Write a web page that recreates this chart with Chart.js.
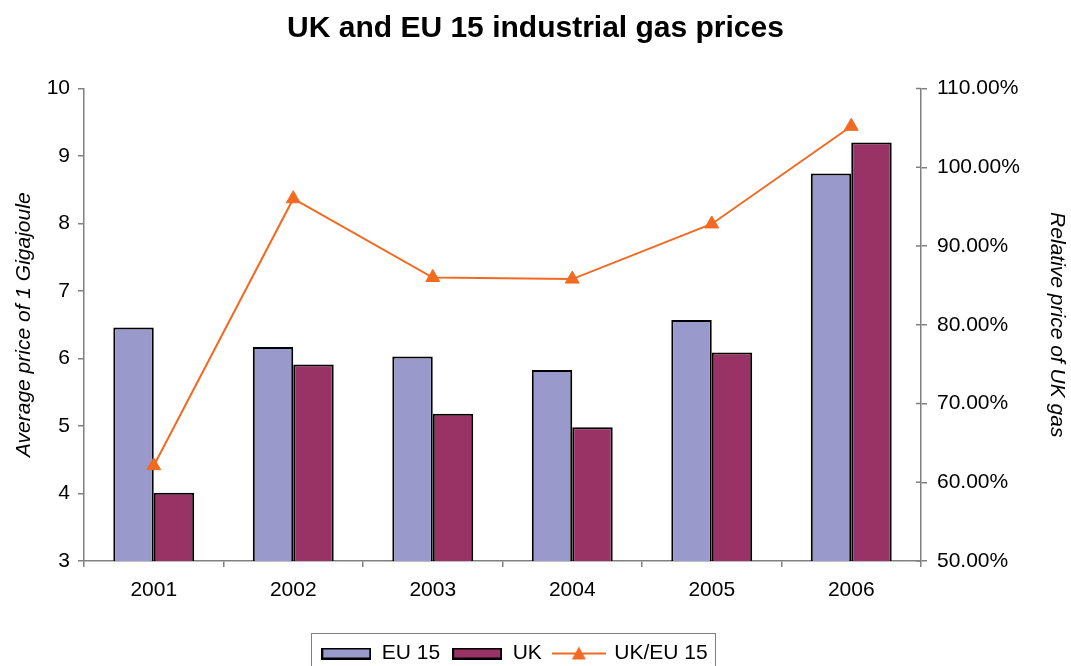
<!DOCTYPE html>
<html>
<head>
<meta charset="utf-8">
<title>UK and EU 15 industrial gas prices</title>
<script src="https://cdn.jsdelivr.net/npm/chart.js@4.4.1/dist/chart.umd.min.js"></script>
<style>
  html, body { margin: 0; padding: 0; background: #ffffff; }
  canvas { display: block; }
</style>
</head>
<body>
<canvas id="chart" width="1071" height="666"></canvas>
<script>
// average price of 1 GJ and UK price relative to EU 15
const years = ['2001', '2002', '2003', '2004', '2005', '2006'];
const eu15Price = [6.46, 6.17, 6.03, 5.83, 6.57, 8.74];
const ukPrice = [4.01, 5.91, 5.18, 4.98, 6.09, 9.20];
const ukEuRatio = [62.1, 96.0, 86.0, 85.8, 92.8, 105.2];

// axis ranges: [min, max, step]
const priceAxis = [3, 10, 1];
const ratioAxis = [50, 110, 10];

const EU_COLOR = '#9999CC';
const UK_COLOR = '#993366';
const LINE_COLOR = '#F26A21';
const AXIS_COLOR = '#808080';

Chart.defaults.font.family = "'Liberation Sans', Arial, sans-serif";
Chart.defaults.color = '#000000';

function barSwatch(fill) {
    var c = document.createElement('canvas');
    c.width = 50;
    c.height = 12;
    var g = c.getContext('2d');
    g.fillStyle = fill;
    g.fillRect(1, 1, 48, 10);
    g.strokeStyle = '#000000';
    g.lineWidth = 2;
    g.strokeRect(1, 1, 48, 10);
    return c;
}

function lineSwatch(color) {
    var c = document.createElement('canvas');
    c.width = 54;
    c.height = 16;
    var g = c.getContext('2d');
    g.strokeStyle = color;
    g.lineWidth = 2;
    g.beginPath();
    g.moveTo(0, 8);
    g.lineTo(54, 8);
    g.stroke();
    g.fillStyle = color;
    g.beginPath();
    g.moveTo(27, 1);
    g.lineTo(34, 14);
    g.lineTo(20, 14);
    g.closePath();
    g.fill();
    return c;
}

// one swatch per dataset index
const swatches = [barSwatch(EU_COLOR), barSwatch(UK_COLOR), lineSwatch(LINE_COLOR)];

// nudge the legend a little left of the canvas centre
const legendShift = {
    id: 'legendShift',
    afterLayout(chart) {
        chart.legend.left -= 21;
        chart.legend.right -= 21;
    }
};

// frame round the legend items
const legendFrame = {
    id: 'legendFrame',
    afterDraw(chart) {
        var boxes = chart.legend.legendHitBoxes;
        if (!boxes || !boxes.length) return;
        var left = Math.min(...boxes.map(b => b.left)) - 10;
        var right = Math.max(...boxes.map(b => b.left + b.width)) + 8;
        var top = Math.min(...boxes.map(b => b.top)) - 10;
        var ctx = chart.ctx;
        ctx.save();
        ctx.strokeStyle = AXIS_COLOR;
        ctx.lineWidth = 1;
        ctx.strokeRect(Math.round(left) + 0.5, Math.round(top) + 0.5, Math.round(right - left), 80);
        ctx.restore();
    }
};

// right axis ticks cross the axis line
const crossTicks = {
    id: 'crossTicks',
    afterDraw(chart) {
        var s = chart.scales.y1;
        var ctx = chart.ctx;
        ctx.save();
        ctx.strokeStyle = AXIS_COLOR;
        ctx.lineWidth = 1.5;
        s.ticks.forEach(t => {
            var y = s.getPixelForValue(t.value);
            ctx.beginPath();
            ctx.moveTo(s.left - 5, y);
            ctx.lineTo(s.left, y);
            ctx.stroke();
        });
        ctx.restore();
    }
};

const ctx = document.getElementById('chart');

var myChart = new Chart(ctx, {
    data: {
        labels: years,
        datasets: [
            {
                type: 'bar',
                label: 'EU 15',
                data: eu15Price,
                backgroundColor: EU_COLOR,
                borderColor: '#000000',
                borderWidth: 2,
                borderSkipped: false,
                categoryPercentage: 0.58,
                barPercentage: 1.0,
                yAxisID: 'y',
                order: 2
            },
            {
                type: 'bar',
                label: 'UK',
                data: ukPrice,
                backgroundColor: UK_COLOR,
                borderColor: '#000000',
                borderWidth: 2,
                borderSkipped: false,
                categoryPercentage: 0.58,
                barPercentage: 1.0,
                yAxisID: 'y',
                order: 2
            },
            {
                type: 'line',
                label: 'UK/EU 15',
                data: ukEuRatio,
                borderColor: LINE_COLOR,
                backgroundColor: LINE_COLOR,
                borderWidth: 2,
                tension: 0,
                pointStyle: 'triangle',
                pointRadius: 8,
                pointBorderWidth: 1,
                yAxisID: 'y1',
                order: 1
            }
        ]
    },
    options: {
        responsive: false,
        animation: false,
        layout: { padding: { left: 0, right: 0, top: 0, bottom: -8 } },
        plugins: {
            title: {
                display: true,
                text: 'UK and EU 15 industrial gas prices',
                color: '#000000',
                font: { size: 30, weight: 'bold' },
                padding: { top: 11, bottom: 41.5 }
            },
            legend: {
                position: 'bottom',
                labels: {
                    usePointStyle: true,
                    pointStyleWidth: 50,
                    color: '#000000',
                    font: { size: 21 },
                    padding: 12,
                    generateLabels(chart) {
                        var items = Chart.defaults.plugins.legend.labels.generateLabels(chart);
                        items.sort((a, b) => a.datasetIndex - b.datasetIndex);
                        items.forEach(item => { item.pointStyle = swatches[item.datasetIndex]; });
                        return items;
                    }
                }
            },
            tooltip: { enabled: false }
        },
        scales: {
            x: {
                offset: true,
                grid: { offset: true, drawOnChartArea: false, tickLength: 6, color: AXIS_COLOR, lineWidth: 1.5 },
                border: { color: AXIS_COLOR, width: 1.5 },
                ticks: { color: '#000000', font: { size: 21 }, padding: 11 },
                afterFit(scale) { scale.height = 70; }
            },
            y: {
                position: 'left',
                min: priceAxis[0],
                max: priceAxis[1],
                ticks: { stepSize: priceAxis[2], color: '#000000', font: { size: 21 }, padding: 8 },
                grid: { drawOnChartArea: false, tickLength: 6, color: AXIS_COLOR, lineWidth: 1.5 },
                border: { color: AXIS_COLOR, width: 1.5 },
                title: {
                    display: true,
                    text: 'Average price of 1 Gigajoule',
                    color: '#000000',
                    font: { size: 21, style: 'italic' },
                    padding: { top: 12, bottom: 0 }
                },
                afterFit(scale) { scale.width = 84; }
            },
            y1: {
                position: 'right',
                min: ratioAxis[0],
                max: ratioAxis[1],
                ticks: {
                    stepSize: ratioAxis[2],
                    color: '#000000',
                    font: { size: 21 },
                    padding: 10,
                    callback: v => v.toFixed(2) + '%'
                },
                grid: { drawOnChartArea: false, tickLength: 6, color: AXIS_COLOR, lineWidth: 1.5 },
                border: { color: AXIS_COLOR, width: 1.5 },
                title: {
                    display: true,
                    text: 'Relative price of UK gas',
                    color: '#000000',
                    font: { size: 21, style: 'italic' },
                    padding: { top: 2, bottom: 0 }
                },
                afterFit(scale) { scale.width = 150; }
            }
        }
    },
    plugins: [legendShift, legendFrame, crossTicks]
});
</script>
</body>
</html>
